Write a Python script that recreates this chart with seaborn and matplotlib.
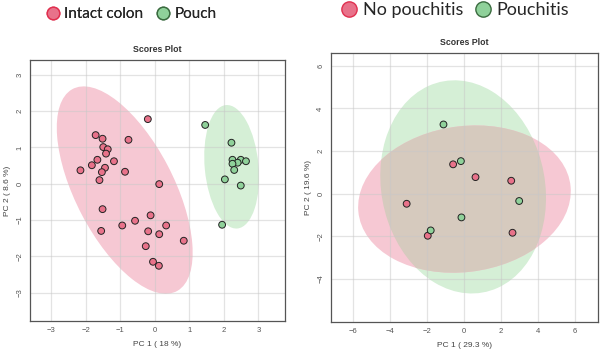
import numpy as np
import pandas as pd
import seaborn as sns
import matplotlib.pyplot as plt
from matplotlib.patches import Ellipse
from matplotlib.lines import Line2D

# left panel: intact colon vs pouch
colon_x = [-0.20, -1.71, -1.51, -0.76, -1.49, -1.36, -1.41, -1.66, -1.18, -1.82, -1.44, -2.15, -1.53, -0.86,
           -1.60, 0.13, -1.51, -0.12, -0.57, -0.94, 0.33, -1.55, -0.19, 0.13, 0.84, -0.26, -0.05, 0.12]
colon_y = [1.78, 1.34, 1.24, 1.21, 1.01, 0.95, 0.83, 0.66, 0.62, 0.51, 0.44, 0.37, 0.32, 0.33,
           0.10, -0.01, -0.70, -0.87, -1.02, -1.15, -1.15, -1.30, -1.31, -1.39, -1.57, -1.72, -2.15, -2.26]
pouch_x = [1.46, 2.22, 2.25, 2.49, 2.64, 2.40, 2.25, 2.30, 2.03, 2.49, 1.95]
pouch_y = [1.62, 1.13, 0.66, 0.66, 0.62, 0.58, 0.55, 0.38, 0.12, -0.05, -1.13]

# right panel: no pouchitis vs pouchitis
nopch_x = [-0.57, 0.64, 2.57, -3.08, -1.94, 2.64]
nopch_y = [1.38, 0.78, 0.61, -0.47, -1.97, -1.83]
pch_x = [-1.09, -0.15, 3.00, -0.12, -1.78]
pch_y = [3.25, 1.53, -0.34, -1.11, -1.72]

red = '#e8728a'
green = '#8fd19a'
red_fill = '#f6c8d3'
green_fill = '#d5efd6'
mix_fill = '#d6cabe'


def conf_ellipse(ax, x, y, color):
    # 95% confidence ellipse from the group covariance
    x = np.asarray(x); y = np.asarray(y)
    cov = np.cov(x, y)
    vals, vecs = np.linalg.eigh(cov)
    order = vals.argsort()[::-1]
    vals, vecs = vals[order], vecs[:, order]
    ang = np.degrees(np.arctan2(vecs[1, 0], vecs[0, 0]))
    k = np.sqrt(5.991)
    e = Ellipse((x.mean(), y.mean()), 2 * k * np.sqrt(vals[0]), 2 * k * np.sqrt(vals[1]),
                angle=ang, facecolor=color, edgecolor='none', zorder=0.3)
    ax.add_patch(e)
    return e


def style_axes(ax, xticks, yticks, xlim, ylim, xlabel, ylabel):
    ax.set_xlim(xlim); ax.set_ylim(ylim)
    ax.set_xticks(xticks); ax.set_yticks(yticks)
    ax.grid(True, color='#c8c8c8', alpha=0.5, linewidth=0.9)
    ax.set_axisbelow(True)
    for s in ax.spines.values():
        s.set_color('#555555'); s.set_linewidth(0.9)
    ax.tick_params(labelsize=5.5, colors='#555555', length=2.5, width=0.7, pad=2)
    for lbl in ax.get_yticklabels():
        lbl.set_rotation(90); lbl.set_va('center')
    ax.set_xlabel(xlabel, fontsize=6, color='#444444', labelpad=5)
    ax.set_ylabel(ylabel, fontsize=6, color='#444444', labelpad=4)
    ax.set_title('Scores Plot', fontsize=6.3, fontweight='bold', color='#333333', pad=6)


sns.set_style('white')
plt.rcParams['font.family'] = ['Liberation Sans', 'DejaVu Sans']

fig = plt.figure(figsize=(6, 3.57), dpi=100)
ax1 = fig.add_axes([0.05, 0.101, 0.425, 0.731])
ax2 = fig.add_axes([0.551, 0.099, 0.446, 0.753])

left = pd.DataFrame({'x': colon_x + pouch_x, 'y': colon_y + pouch_y,
                     'group': ['Intact colon'] * len(colon_x) + ['Pouch'] * len(pouch_x)})
right = pd.DataFrame({'x': nopch_x + pch_x, 'y': nopch_y + pch_y,
                      'group': ['No pouchitis'] * len(nopch_x) + ['Pouchitis'] * len(pch_x)})

conf_ellipse(ax1, colon_x, colon_y, red_fill)
conf_ellipse(ax1, pouch_x, pouch_y, green_fill)
sns.scatterplot(data=left, x='x', y='y', hue='group', palette=[red, green], s=24,
                edgecolor='#222222', linewidth=0.7, legend=False, ax=ax1, zorder=3)
style_axes(ax1, range(-3, 4), range(-3, 4), (-3.61, 3.77), (-3.78, 3.41),
           'PC 1 ( 18 %)', 'PC 2 ( 8.6 %)')

conf_ellipse(ax2, pch_x, pch_y, green_fill)
red_e = conf_ellipse(ax2, nopch_x, nopch_y, red_fill)
# overlap of the two ellipses
ov = conf_ellipse(ax2, pch_x, pch_y, mix_fill)
ov.set_zorder(0.35)
ov.set_clip_path(red_e)
sns.scatterplot(data=right, x='x', y='y', hue='group', palette=[red, green], s=24,
                edgecolor='#222222', linewidth=0.7, legend=False, ax=ax2, zorder=3)
style_axes(ax2, range(-6, 7, 2), range(-4, 7, 2), (-7.19, 7.27), (-6.0, 6.61),
           'PC 1 ( 29.3 %)', 'PC 2 ( 19.6 %)')


# legends on top
def top_legend(labels, x0, y0, size, msize, colsp):
    handles = [Line2D([], [], marker='o', linestyle='none', markersize=msize,
                      markerfacecolor=red, markeredgecolor='#e0304f', markeredgewidth=1.0),
               Line2D([], [], marker='o', linestyle='none', markersize=msize,
                      markerfacecolor=green, markeredgecolor='#3a6b3f', markeredgewidth=1.0)]
    leg = fig.legend(handles, labels, loc='upper left', bbox_to_anchor=(x0, y0), ncol=2,
                     frameon=False, handletextpad=0.25, columnspacing=colsp, handlelength=1.0,
                     prop={'family': 'Lato', 'size': size})
    return leg

fig.add_artist(top_legend(['Intact colon', 'Pouch'], 0.052, 1.018, 11, 9, 0.8))
top_legend(['No pouchitis', 'Pouchitis'], 0.54, 1.04, 13, 11, 0.6)

fig.savefig('out.png', dpi=100)
